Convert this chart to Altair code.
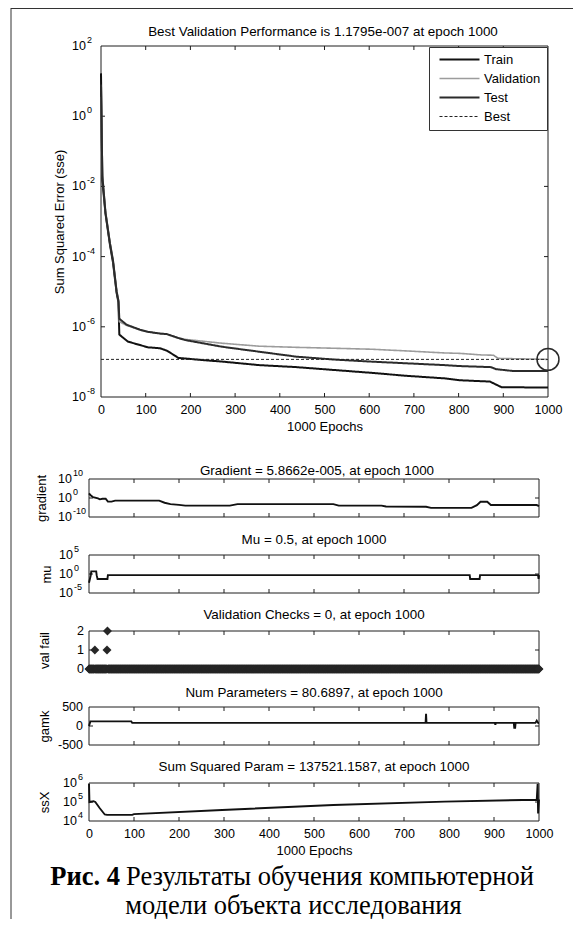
import altair as alt
import pandas as pd

FONT = "Liberation Sans"
SERIF = "Liberation Serif"
INK = "#1e1e1e"

# ---------------------------------------------------------------- data
EPOCH_TICKS = [0, 100, 200, 300, 400, 500, 600, 700, 800, 900, 1000]
INNER_EPOCH_TICKS = [100, 200, 300, 400, 500, 600, 700, 800, 900]

SERIES = ["Train", "Validation", "Test", "Best"]
SERIES_COLORS = ["#111111", "#9c9c9c", "#2b2b2b", "#222222"]
SERIES_WIDTHS = [2.0, 1.6, 2.0, 1.0]
SERIES_DASHES = [[1, 0], [1, 0], [1, 0], [3, 2]]

train_epoch = [0, 3, 10, 20, 27, 35, 39, 41, 60, 105, 132, 147, 162, 173, 188,
               230, 271, 354, 437, 520, 603, 685, 768, 803, 870, 896, 1000]
train_sse = [16.6, 1.5e-2, 1.7e-3, 2.2e-4, 6.6e-5, 9.1e-6, 5.0e-6, 6.0e-7, 3.8e-7,
             2.6e-7, 2.45e-7, 2.1e-7, 1.6e-7, 1.3e-7, 1.25e-7, 1.12e-7, 1.02e-7,
             8.1e-8, 7.1e-8, 5.9e-8, 4.9e-8, 4.0e-8, 3.4e-8, 3.0e-8, 2.75e-8,
             1.9e-8, 1.86e-8]

val_epoch = [0, 3, 10, 20, 27, 35, 39, 41, 57, 87, 105, 132, 147, 173, 188, 271,
             354, 437, 520, 603, 685, 768, 803, 851, 878, 888, 1000]
val_sse = [3.6, 2.5e-2, 2.0e-3, 2.6e-4, 8.0e-5, 1.1e-5, 6.0e-6, 1.4e-6, 1.1e-6,
           8.1e-7, 7.2e-7, 6.5e-7, 6.2e-7, 4.8e-7, 4.4e-7, 3.4e-7, 2.8e-7, 2.6e-7,
           2.45e-7, 2.3e-7, 2.05e-7, 1.8e-7, 1.75e-7, 1.58e-7, 1.55e-7, 1.26e-7,
           1.1795e-7]

test_epoch = [0, 3, 10, 20, 27, 35, 39, 41, 57, 87, 105, 132, 147, 173, 188, 271,
              354, 437, 520, 603, 685, 768, 803, 872, 884, 922, 1000]
test_sse = [8.0, 2.0e-2, 1.8e-3, 2.4e-4, 7.5e-5, 1.0e-5, 5.5e-6, 1.7e-6, 1.15e-6,
            8.3e-7, 7.2e-7, 6.4e-7, 6.2e-7, 4.8e-7, 4.2e-7, 2.7e-7, 1.95e-7,
            1.41e-7, 1.17e-7, 1.02e-7, 9.1e-8, 8.1e-8, 7.6e-8, 7.1e-8, 6.2e-8,
            5.5e-8, 5.5e-8]

best_epoch = 1000
best_sse = 1.1795e-7
best_line_epoch = [0, 1000]

grad_epoch = [0, 3, 9, 20, 24, 30, 37, 42, 50, 58, 156, 168, 181, 200, 214, 313,
              330, 543, 555, 650, 660, 749, 760, 850, 862, 870, 885, 893, 995, 1000]
grad_value = [251, 40, 2.5, 0.63, 0.2, 0.4, 0.4, 0.0126, 0.0126, 0.04, 0.04, 3.2e-3,
              6.3e-4, 2.5e-4, 1e-4, 1e-4, 6.3e-4, 6.3e-4, 1e-4, 1e-4, 3.2e-5, 2.5e-5,
              6.3e-6, 6.3e-6, 1.6e-4, 0.01, 0.01, 2e-4, 2e-4, 5.8662e-5]

mu_epoch = [0, 2, 4, 5, 16, 17, 19, 41, 42, 846, 847, 868, 869, 998, 999, 1000]
mu_value = [0.005, 0.05, 0.5, 5, 5, 0.5, 0.05, 0.05, 0.5, 0.5, 0.05, 0.05, 0.5,
            0.5, 0.05, 0.5]

N_EPOCHS = 1000
valfail_epoch = [13, 40, 41]      # every other epoch has 0 validation failures
valfail_value = [1, 1, 2]

gamk_epoch = [0, 3, 94, 96, 748, 749, 750, 902, 903, 904, 944, 945, 947, 948,
              992, 995, 998, 1000]
gamk_value = [0, 122, 122, 81, 81, 320, 81, 81, 30, 81, 81, -45, -45, 81, 81,
              140, 81, 80.6897]

ssx_epoch = [0, 1, 10, 14, 24, 35, 40, 96, 100, 296, 543, 790, 995, 997, 998, 1000]
ssx_value = [9.0e5, 1.0e5, 1.1e5, 1.0e5, 4.7e4, 2.2e4, 2.1e4, 2.1e4, 2.3e4, 3.8e4,
             6.9e4, 1.05e5, 1.32e5, 9.0e5, 2.5e4, 1.375e5]

perf_ticks = [1e2, 1e0, 1e-2, 1e-4, 1e-6, 1e-8]
perf_exps = ["2", "0", "-2", "-4", "-6", "-8"]
perf_inner = [1e0, 1e-2, 1e-4, 1e-6]
grad_ticks = [1e10, 1e0, 1e-10]
grad_exps = ["10", "0", "-10"]
mu_ticks = [1e5, 1e0, 1e-5]
mu_exps = ["5", "0", "-5"]
valfail_ticks = [2, 1, 0]
gamk_ticks = [500, 0, -500]
ssx_ticks = [1e6, 1e5, 1e4]
ssx_exps = ["6", "5", "4"]

TITLE_PERF = "Best Validation Performance is 1.1795e-007 at epoch 1000"
TITLE_GRAD = "Gradient = 5.8662e-005, at epoch 1000"
TITLE_MU = "Mu = 0.5, at epoch 1000"
TITLE_VAL = "Validation Checks = 0, at epoch 1000"
TITLE_GAMK = "Num Parameters = 80.6897, at epoch 1000"
TITLE_SSX = "Sum Squared Param = 137521.1587, at epoch 1000"
CAPTION_BOLD = "Рис. 4"
CAPTION_LINE1 = "Результаты обучения компьютерной"
CAPTION_LINE2 = "модели объекта исследования"

# ---------------------------------------------------------------- layout
LW, LH = 450, 38          # lower panels
MW, MH = 459, 351         # main panel view (plot frame spans x 12..459)
MX0 = 12
TICK = 4
FS = 12.5                 # tick labels
TFS = 13.4                # panel titles
AFS = 13                  # axis titles
SUP = 9


def frame_df(ymin, ymax):
    return pd.DataFrame({"epoch": [0, 0, 0, 1000], "epoch2": [1000, 1000, 0, 1000],
                         "value": [ymax, ymin, ymin, ymin],
                         "value2": [ymax, ymin, ymax, ymax]})


def y_title_axis(title, tx, h):
    return alt.Axis(labels=False, ticks=False, domain=False, grid=False, title=title,
                    titleX=tx, titleY=h / 2, titleFont=FONT, titleFontSize=AFS,
                    titleFontWeight="normal", titleColor="black",
                    titleBaseline="middle", titleAlign="center", titleAngle=270)


x_axis_labeled = alt.Axis(values=EPOCH_TICKS, ticks=False, domain=False, grid=False,
                          labelFont=FONT, labelFontSize=FS, labelColor="black",
                          labelPadding=6, labelFlush=False, labelOverlap=False,
                          format="d", title="1000 Epochs", titleFont=FONT,
                          titleFontSize=AFS, titleFontWeight="normal",
                          titleColor="black", titleY=29, titleBaseline="middle")


def log_labels(ticks, exps, Y, base_x, exp_x):
    df = pd.DataFrame({"value": ticks, "exp": exps})
    base = alt.Chart(df).mark_text(text="10", align="right", baseline="middle",
                                   font=FONT, fontSize=FS, color="black", dy=0).encode(
        x=alt.value(base_x), y=Y)
    sup = alt.Chart(df).mark_text(align="left", baseline="middle", font=FONT,
                                  fontSize=SUP, color="black", dy=-6).encode(
        x=alt.value(exp_x), y=Y, text="exp:N")
    return [base, sup]


def lin_labels(ticks, Y, x):
    df = pd.DataFrame({"value": ticks, "lab": [str(t) for t in ticks]})
    return [alt.Chart(df).mark_text(align="right", baseline="middle", font=FONT,
                                    fontSize=FS, color="black").encode(
        x=alt.value(x), y=Y, text="lab:N")]


def title_layer(text, cx, cy):
    return alt.Chart(pd.DataFrame({"t": [text]})).mark_text(
        align="center", baseline="middle", font=FONT, fontSize=TFS,
        color="black").encode(text="t:N", x=alt.value(cx), y=alt.value(cy))


def panel(data_fn, labels_fn, x_scale, x_axis, y_scale, y_axis, width, height, x0,
          ydom, inner_y, title, title_cx, title_cy):
    X = alt.X("epoch:Q", scale=x_scale, axis=x_axis)
    Y = alt.Y("value:Q", scale=y_scale, axis=y_axis)
    frame = alt.Chart(frame_df(*ydom)).mark_rule(color=INK, strokeWidth=1).encode(
        x=X, x2=alt.X2("epoch2:Q"), y=Y, y2=alt.Y2("value2:Q"))
    xt = pd.DataFrame({"epoch": INNER_EPOCH_TICKS})
    xb = alt.Chart(xt).mark_rule(color=INK).encode(
        x=X, y=alt.value(height), y2=alt.value(height - TICK))
    xtop = alt.Chart(xt).mark_rule(color=INK).encode(
        x=X, y=alt.value(0), y2=alt.value(TICK))
    yt = pd.DataFrame({"value": inner_y})
    yl = alt.Chart(yt).mark_rule(color=INK).encode(
        y=Y, x=alt.value(x0), x2=alt.value(x0 + TICK))
    yr = alt.Chart(yt).mark_rule(color=INK).encode(
        y=Y, x=alt.value(width), x2=alt.value(width - TICK))
    layers = ([frame, xb, xtop, yl, yr] + data_fn(X, Y) + labels_fn(Y)
              + [title_layer(title, title_cx, title_cy)])
    return alt.layer(*layers).properties(width=width, height=height)


# ---------------------------------------------------------------- main panel
perf_df = pd.concat([
    pd.DataFrame({"epoch": train_epoch, "value": train_sse, "series": "Train"}),
    pd.DataFrame({"epoch": val_epoch, "value": val_sse, "series": "Validation"}),
    pd.DataFrame({"epoch": test_epoch, "value": test_sse, "series": "Test"}),
    pd.DataFrame({"epoch": best_line_epoch, "value": [best_sse, best_sse],
                  "series": "Best"}),
], ignore_index=True)

leg = alt.Legend(title=None, orient="top-right", offset=1, padding=6, rowPadding=5,
                 strokeColor="#333333", fillColor="white", labelFont=FONT,
                 labelFontSize=13, labelColor="black", symbolType="M-4,0H4",
                 symbolSize=100, symbolOffset=18, labelOffset=18)


def perf_data(X, Y):
    lines = alt.Chart(perf_df).mark_line().encode(
        x=X, y=Y,
        color=alt.Color("series:N", scale=alt.Scale(domain=SERIES, range=SERIES_COLORS),
                        legend=leg),
        strokeDash=alt.StrokeDash("series:N",
                                  scale=alt.Scale(domain=SERIES, range=SERIES_DASHES),
                                  legend=leg),
        strokeWidth=alt.StrokeWidth("series:N",
                                    scale=alt.Scale(type="ordinal", domain=SERIES,
                                                    range=SERIES_WIDTHS),
                                    legend=leg),
    )
    circle = alt.Chart(pd.DataFrame({"epoch": [best_epoch], "value": [best_sse]})).mark_point(
        shape="circle", size=480, filled=False, color="#2a2a2a", strokeWidth=1.5,
        opacity=1).encode(x=X, y=Y)
    return [lines, circle]


main = panel(perf_data,
             lambda Y: log_labels(perf_ticks, perf_exps, Y, MX0 - 15, MX0 - 14),
             alt.Scale(domain=[0, 1000], range=[MX0, MW], nice=False, zero=False),
             x_axis_labeled,
             alt.Scale(type="log", domain=[1e-8, 1e2], nice=False),
             y_title_axis("Sum Squared Error  (sse)", -30, MH),
             MW, MH, MX0, (1e-8, 1e2), perf_inner, TITLE_PERF, 234, -14)

spacer = alt.Chart(pd.DataFrame({"epoch": [0]})).mark_rule(opacity=0).encode(
    x=alt.value(0)).properties(width=LW, height=6)

LX = alt.Scale(domain=[0, 1000], nice=False, zero=False)


def line_data(epochs, values):
    df = pd.DataFrame({"epoch": epochs, "value": values})
    return lambda X, Y: [alt.Chart(df).mark_line(color="#111111", strokeWidth=1.9).encode(x=X, y=Y)]


grad = panel(line_data(grad_epoch, grad_value),
             lambda Y: log_labels(grad_ticks, grad_exps, Y, -17, -16),
             LX, None, alt.Scale(type="log", domain=[1e-10, 1e10], nice=False),
             y_title_axis("gradient", -48, LH), LW, LH, 0, (1e-10, 1e10), [1e0],
             TITLE_GRAD, 228, -8)

mu = panel(line_data(mu_epoch, mu_value),
           lambda Y: log_labels(mu_ticks, mu_exps, Y, -16, -15),
           LX, None, alt.Scale(type="log", domain=[1e-5, 1e5], nice=False),
           y_title_axis("mu", -43, LH), LW, LH, 0, (1e-5, 1e5), [1e0],
           TITLE_MU, 225, -15)

vf_lookup = dict(zip(valfail_epoch, valfail_value))
vf_df = pd.DataFrame({"epoch": list(range(N_EPOCHS + 1)),
                      "value": [vf_lookup.get(e, 0) for e in range(N_EPOCHS + 1)]})


def vf_data(X, Y):
    return [alt.Chart(vf_df).mark_point(shape="diamond", filled=True, size=80,
                                        color="#262626", opacity=1).encode(x=X, y=Y)]


val = panel(vf_data, lambda Y: lin_labels(valfail_ticks, Y, -5),
            LX, None, alt.Scale(domain=[0, 2], nice=False, zero=False),
            y_title_axis("val fail", -45, LH), LW, LH, 0, (0, 2), [1],
            TITLE_VAL, 225, -16)

gamk = panel(line_data(gamk_epoch, gamk_value),
             lambda Y: lin_labels(gamk_ticks, Y, -6),
             LX, None, alt.Scale(domain=[-500, 500], nice=False, zero=False),
             y_title_axis("gamk", -45, LH), LW, LH, 0, (-500, 500), [0],
             TITLE_GAMK, 225, -14)

ssx = panel(line_data(ssx_epoch, ssx_value),
            lambda Y: log_labels(ssx_ticks, ssx_exps, Y, -12, -11),
            LX, x_axis_labeled, alt.Scale(type="log", domain=[1e4, 1e6], nice=False),
            y_title_axis("ssX", -45, LH), LW, LH, 0, (1e4, 1e6), [1e5],
            TITLE_SSX, 225, -16)

# ---------------------------------------------------------------- caption + page frame
CAP_FS = 26.5
cap_b = alt.Chart(pd.DataFrame({"t": [CAPTION_BOLD]})).mark_text(
    align="right", baseline="middle", font=SERIF, fontSize=CAP_FS, fontWeight="bold",
    color="black").encode(text="t:N", x=alt.value(31), y=alt.value(18))
cap_1 = alt.Chart(pd.DataFrame({"t": [CAPTION_LINE1]})).mark_text(
    align="left", baseline="middle", font=SERIF, fontSize=CAP_FS, color="black").encode(
    text="t:N", x=alt.value(37), y=alt.value(18))
cap_2 = alt.Chart(pd.DataFrame({"t": [CAPTION_LINE2]})).mark_text(
    align="center", baseline="middle", font=SERIF, fontSize=CAP_FS, color="black").encode(
    text="t:N", x=alt.value(204.5), y=alt.value(46.5))
border_left = alt.Chart(pd.DataFrame({"t": [0]})).mark_rule(color="#333333", strokeWidth=1).encode(
    x=alt.value(-78), y=alt.value(-851), y2=alt.value(70))
border_top = alt.Chart(pd.DataFrame({"t": [0]})).mark_rule(color="#333333", strokeWidth=1).encode(
    x=alt.value(-78), x2=alt.value(486), y=alt.value(-850.5))
caption = alt.layer(cap_b, cap_1, cap_2, border_left, border_top).properties(
    width=LW, height=60)

chart = alt.vconcat(main, spacer, grad, mu, val, gamk, ssx, caption,
                    spacing=38, bounds="flush").resolve_scale(
    color="independent", strokeDash="independent", strokeWidth="independent"
).properties(
    autosize=alt.AutoSizeParams(type="none"),
    padding={"left": 81, "top": 38, "right": 484, "bottom": 873},
    background="white",
).configure_view(stroke="transparent")

chart.save("out.html", embed_options={"renderer": "svg", "actions": False})
